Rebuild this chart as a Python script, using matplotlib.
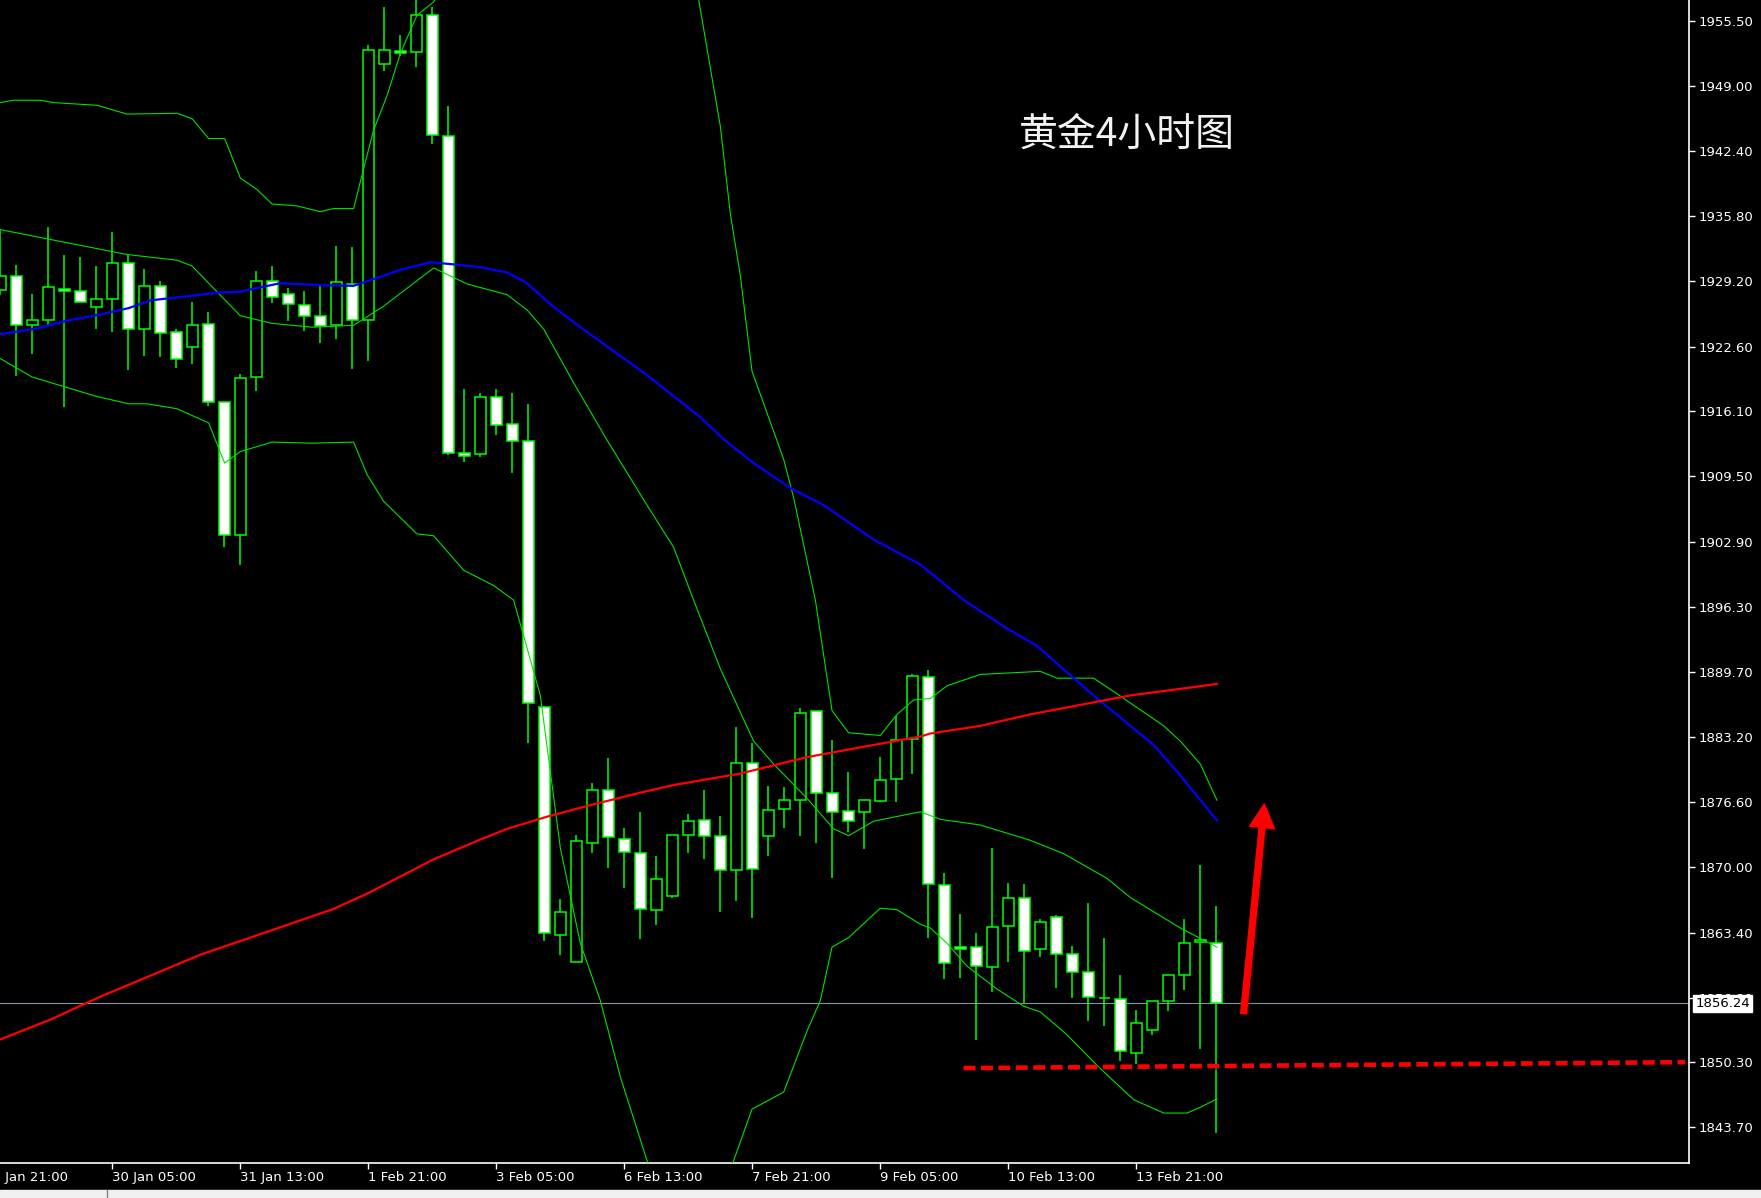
import matplotlib
matplotlib.use("Agg")
import matplotlib.pyplot as plt
import matplotlib.patheffects as pe
from matplotlib.patches import FancyArrowPatch, Rectangle
from matplotlib.transforms import blended_transform_factory

# 4h candles (index 0 = leftmost visible bar)
opens = [1928.33, 1929.80, 1924.85, 1925.35, 1928.48, 1928.29, 1926.67, 1927.48, 1931.04, 1924.39,
         1928.79, 1924.08, 1922.53, 1924.93, 1917.07, 1903.54, 1919.51, 1929.30, 1927.90, 1926.78,
         1925.74, 1924.77, 1928.99, 1925.35, 1951.15, 1952.51, 1952.35, 1956.10, 1943.88, 1911.89,
         1911.74, 1917.50, 1914.75, 1913.05, 1886.22, 1863.12, 1860.39, 1872.49, 1877.85, 1872.88,
         1871.41, 1865.67, 1867.06, 1873.22, 1874.73, 1873.11, 1869.68, 1880.51, 1873.11, 1875.85,
         1876.77, 1885.75, 1877.47, 1875.65, 1875.54, 1876.66, 1878.89, 1882.94, 1889.18, 1868.25,
         1861.89, 1861.89, 1859.96, 1864.09, 1866.86, 1861.70, 1865.01, 1861.20, 1859.39, 1856.80,
         1856.73, 1851.25, 1853.53, 1856.46, 1859.15, 1862.43, 1862.39]
highs = [1934.44, 1930.84, 1927.94, 1934.67, 1931.89, 1931.66, 1930.77, 1934.21, 1931.89, 1930.46,
         1929.22, 1924.39, 1927.09, 1926.13, 1917.07, 1919.90, 1930.26, 1930.77, 1928.56, 1928.21,
         1928.83, 1932.78, 1932.70, 1953.09, 1956.95, 1954.09, 1958.50, 1956.95, 1946.90, 1918.31,
         1917.93, 1918.31, 1917.93, 1916.80, 1886.30, 1866.75, 1873.22, 1878.51, 1881.05, 1873.96,
         1875.58, 1871.14, 1873.30, 1875.42, 1877.81, 1875.23, 1884.17, 1882.55, 1878.20, 1878.12,
         1886.10, 1885.75, 1882.86, 1879.62, 1876.77, 1881.13, 1885.33, 1889.49, 1889.96, 1869.41,
         1865.28, 1863.36, 1871.95, 1868.41, 1868.29, 1864.82, 1865.17, 1862.08, 1866.36, 1862.85,
         1859.15, 1855.57, 1856.46, 1859.15, 1864.78, 1870.22, 1866.09]
lows = [1927.87, 1919.67, 1921.87, 1924.77, 1916.53, 1927.17, 1924.39, 1924.08, 1920.25, 1921.68,
        1921.56, 1920.44, 1920.90, 1916.65, 1902.41, 1900.56, 1918.12, 1926.98, 1925.24, 1924.23,
        1923.03, 1923.38, 1920.40, 1921.21, 1950.49, 1952.04, 1950.88, 1943.14, 1911.62, 1910.96,
        1911.50, 1913.67, 1909.88, 1882.55, 1862.51, 1861.16, 1860.39, 1871.49, 1869.95, 1867.94,
        1862.78, 1864.13, 1866.86, 1871.49, 1870.87, 1865.51, 1866.56, 1864.86, 1871.18, 1874.00,
        1873.11, 1872.49, 1868.95, 1873.61, 1871.88, 1876.58, 1876.58, 1879.47, 1862.89, 1858.73,
        1858.85, 1852.56, 1857.42, 1860.46, 1856.26, 1860.97, 1857.84, 1856.80, 1854.49, 1853.91,
        1850.44, 1850.09, 1853.06, 1855.45, 1857.61, 1851.60, 1843.16]
closes = [1929.80, 1924.85, 1925.35, 1928.60, 1928.29, 1927.17, 1927.40, 1931.12, 1924.39, 1928.79,
          1923.96, 1921.41, 1924.85, 1917.07, 1903.54, 1919.40, 1929.30, 1927.60, 1926.90, 1925.74,
          1924.66, 1929.10, 1925.27, 1952.58, 1952.58, 1952.27, 1956.10, 1944.00, 1911.89, 1911.54,
          1917.50, 1914.68, 1913.05, 1886.60, 1863.36, 1865.44, 1872.61, 1877.77, 1873.03, 1871.53,
          1865.75, 1868.83, 1873.30, 1874.65, 1873.11, 1869.68, 1880.51, 1869.87, 1875.77, 1876.81,
          1885.56, 1877.47, 1875.54, 1874.65, 1876.77, 1878.78, 1882.82, 1889.30, 1868.29, 1860.31,
          1861.70, 1860.00, 1864.01, 1866.86, 1861.54, 1864.44, 1861.20, 1859.39, 1856.84, 1856.80,
          1851.41, 1854.30, 1856.46, 1859.15, 1862.39, 1862.62, 1856.24]

# Bollinger bands, sampled along the drawn curves (x = bar index)
bb_up_x = [0, 0.83, 2.5, 3.33, 6.04, 7.92, 11.04, 11.98, 13.02, 14.02, 15.0, 16.04, 16.98, 18.54,
           20.0, 20.83, 22.08, 22.71, 23.33, 24.17, 25.0, 26.04, 27.08, 28.5, 32, 37, 41, 43.65,
           45.0, 45.63, 46.25, 46.98, 48.96, 49.58, 50.94, 51.98, 53.02, 55.0, 56.04, 57.08, 58.13,
           59.17, 61.25, 65.0, 66.04, 68.33, 69.58, 72.71, 73.75, 75.0, 76.04]
bb_up_y = [1947.28, 1947.52, 1947.52, 1947.28, 1947.01, 1946.12, 1946.20, 1945.66, 1943.65, 1943.65,
           1939.66, 1938.50, 1937.03, 1936.84, 1936.26, 1936.57, 1936.57, 1940.63, 1944.50, 1947.98,
           1952.24, 1956.10, 1957.46, 1961.0, 1967.0, 1970.0, 1965.0, 1957.65, 1944.89, 1935.99,
           1929.80, 1920.13, 1911.23, 1907.37, 1897.0, 1885.83, 1883.59, 1883.32, 1885.44, 1886.91,
           1887.06, 1888.34, 1889.49, 1889.80, 1889.11, 1889.11, 1887.76, 1884.29, 1882.75, 1880.43,
           1876.77]
bb_mid_x = [0, 7.92, 11.04, 11.98, 13.02, 15.0, 16.98, 19.48, 22.08, 23.96, 27.08, 29.17, 31.67,
            32.92, 33.96, 35.83, 37.92, 40.42, 42.08, 43.33, 45.0, 47.08, 48.33, 50.42, 52.08, 53.02,
            54.58, 57.5, 58.75, 61.25, 64.38, 66.46, 69.17, 70.63, 73.75, 76.04]
bb_mid_y = [1934.44, 1931.93, 1931.35, 1930.77, 1929.03, 1925.74, 1924.97, 1924.58, 1924.77, 1926.71,
            1930.57, 1928.95, 1927.87, 1926.32, 1924.39, 1918.97, 1913.17, 1906.59, 1902.34, 1897.0,
            1890.07, 1882.75, 1880.43, 1876.96, 1873.88, 1873.19, 1874.65, 1875.61, 1874.84, 1874.27,
            1872.72, 1871.37, 1868.87, 1866.94, 1863.86, 1861.93]
bb_low_x = [0, 1.98, 5.94, 8.02, 9.17, 11.04, 13.02, 14.02, 15.0, 16.98, 19.48, 22.08, 22.92, 23.96,
            26.04, 27.08, 28.96, 30.83, 32.08, 33.75, 35.0, 36.25, 37.5, 38.75, 40.42, 42, 44, 45.83,
            46.98, 48.96, 50.42, 51.25, 51.98, 53.02, 55.0, 56.04, 57.5, 58.13, 59.17, 60.42, 62.29,
            63.96, 65.0, 66.67, 68.54, 70.83, 72.71, 74.17, 75.0, 76.04]
bb_low_y = [1921.41, 1919.55, 1917.62, 1916.84, 1916.84, 1916.34, 1914.91, 1910.85, 1912.01, 1912.97,
            1912.86, 1912.97, 1909.69, 1906.98, 1903.69, 1903.50, 1900.02, 1898.47, 1897.0, 1887.37,
            1871.95, 1862.32, 1856.53, 1848.82, 1840.34, 1836.0, 1836.0, 1840.34, 1845.55, 1847.28,
            1853.45, 1856.53, 1861.93, 1862.89, 1865.86, 1865.71, 1864.24, 1863.86, 1862.31, 1860.00,
            1857.69, 1855.95, 1855.38, 1853.06, 1849.98, 1846.51, 1845.16, 1845.16, 1845.74, 1846.59]

# moving averages
ma_blue_x = [0, 2.08, 4.17, 6.25, 8.02, 9.38, 11.46, 13.54, 15.0, 17.5, 20.0, 22.08, 22.92, 25.0,
             26.88, 28.13, 30.0, 31.67, 32.92, 34.38, 36.25, 37.92, 40.42, 42.08, 43.75, 45.21,
             47.08, 49.38, 51.46, 54.58, 57.5, 60.21, 62.92, 64.79, 66.67, 68.75, 70.63, 72.08,
             73.75, 76.04]
ma_blue_y = [1923.88, 1924.39, 1925.24, 1925.86, 1926.51, 1927.29, 1927.67, 1928.06, 1928.18, 1929.03,
             1928.83, 1928.76, 1929.22, 1930.38, 1931.15, 1930.96, 1930.65, 1930.11, 1929.03, 1926.90,
             1924.58, 1922.64, 1919.74, 1917.62, 1915.49, 1913.25, 1910.85, 1908.33, 1906.59, 1903.11,
             1900.60, 1897.01, 1894.12, 1892.38, 1889.69, 1886.79, 1884.29, 1882.36, 1879.28, 1874.73]
ma_red_x = [0, 3.13, 6.25, 9.38, 12.5, 15.63, 17.71, 20.83, 22.92, 25.0, 27.08, 30.0, 31.67, 34.17,
            36.67, 40.0, 42.08, 46.25, 50.42, 54.58, 57.5, 58.13, 61.25, 64.38, 67.5, 70.63, 73.75,
            76.04]
ma_red_y = [1852.60, 1854.60, 1856.92, 1859.04, 1861.16, 1862.89, 1864.05, 1865.79, 1867.33, 1869.06,
            1870.80, 1872.80, 1873.88, 1875.11, 1876.19, 1877.54, 1878.31, 1879.47, 1881.13, 1882.36,
            1883.21, 1883.52, 1884.29, 1885.45, 1886.41, 1887.37, 1888.03, 1888.53]

last_price = 1856.24
support_x = [60.2, 105.3]
support_y = [1849.7, 1850.3]
arrow_start = (77.7, 1855.2)
arrow_end = (79.0, 1876.4)

price_ticks = [1955.50, 1949.00, 1942.40, 1935.80, 1929.20, 1922.60, 1916.10, 1909.50, 1902.90,
               1896.30, 1889.70, 1883.20, 1876.60, 1870.00, 1863.40, 1856.80, 1850.30, 1843.70]
time_ticks = [-1, 7, 15, 23, 31, 39, 47, 55, 63, 71]
time_labels = ["29 Jan 21:00", "30 Jan 05:00", "31 Jan 13:00", "1 Feb 21:00", "3 Feb 05:00",
               "6 Feb 13:00", "7 Feb 21:00", "9 Feb 05:00", "10 Feb 13:00", "13 Feb 21:00"]
title = "黄金4小时图"

W, H = 1761, 1198
fig = plt.figure(figsize=(W / 100, H / 100), dpi=100, facecolor="black")
ax_h = 1162.6 / H
ax = fig.add_axes([0, 1 - ax_h, 1689.3 / W, ax_h])
ax.set_facecolor("black")

lime = "#00ff00"
band = "#00e000"

# candles
n = len(opens)
idx = list(range(n))
ax.vlines(idx, lows, highs, color=lime, lw=1.1, zorder=3)
for i in idx:
    o, c = opens[i], closes[i]
    fill = "white" if c < o else "black"
    ax.bar(i, abs(c - o), bottom=min(o, c), width=0.66, color=fill,
           edgecolor=lime, linewidth=1.1, zorder=4)

ax.plot(bb_up_x, bb_up_y, color=band, lw=0.8, zorder=5)
ax.plot(bb_mid_x, bb_mid_y, color=band, lw=0.8, zorder=5)
ax.plot(bb_low_x, bb_low_y, color=band, lw=0.8, zorder=5)
ax.plot(ma_blue_x, ma_blue_y, color="#0000ff", lw=1.6, zorder=5)
ax.plot(ma_red_x, ma_red_y, color="#ff0000", lw=1.6, zorder=5)

ax.axhline(last_price, color="#8293a3", lw=0.8, zorder=2)

shadow = [pe.SimpleLineShadow(offset=(1.5, -1.5), alpha=0.35), pe.Normal()]
ax.plot(support_x, support_y, color="#ff0000", lw=3.3, dashes=(2.6, 1.2),
        zorder=6, path_effects=shadow)

arrow = FancyArrowPatch(arrow_start, arrow_end,
                        arrowstyle="simple,head_length=1.7,head_width=1.8,tail_width=0.42",
                        mutation_scale=10, color="#ff0000", shrinkA=0, shrinkB=0, zorder=7,
                        path_effects=[pe.SimplePatchShadow(offset=(2, -2), alpha=0.35), pe.Normal()])
ax.add_patch(arrow)

ax.text(0.667, 0.884, title, transform=ax.transAxes, ha="center", va="center",
        fontsize=28, color="#f2f2f2", family=["Noto Sans CJK SC", "DejaVu Sans"])

ax.set_xlim(-0.02, 105.56)
ax.set_ylim(1840.15, 1957.65)

# axes frame like the terminal: only right and bottom
for side in ["top", "left"]:
    ax.spines[side].set_visible(False)
for side in ["right", "bottom"]:
    ax.spines[side].set_color("white")
    ax.spines[side].set_linewidth(1.2)

ax.yaxis.tick_right()
ax.set_yticks(price_ticks)
ax.set_yticklabels([f"{p:.2f}" for p in price_ticks])
ax.tick_params(axis="y", direction="out", length=4, width=1, colors="white",
               labelsize=9.5, pad=3)
ax.set_xticks([t for t in time_ticks if t >= 0])
ax.set_xticklabels([])
ax.tick_params(axis="x", direction="out", length=4, width=1, colors="white")

tr = blended_transform_factory(ax.transData, ax.transAxes)
for t, lab in zip(time_ticks, time_labels):
    ax.text(t - 0.05, -0.007, lab, transform=tr, ha="left", va="top",
            color="white", fontsize=9.5, clip_on=False)

ax.text(1.0035, last_price, f"{last_price:.2f}",
        transform=blended_transform_factory(ax.transAxes, ax.transData),
        ha="left", va="center", color="black", fontsize=9.5, zorder=10, clip_on=False,
        bbox=dict(boxstyle="square,pad=0.15", fc="white", ec="white"))

# window strip at the very bottom
fig.add_artist(Rectangle((0, 0), 1, 8 / H, transform=fig.transFigure,
                         color="#f0f0f0", zorder=0))
fig.add_artist(plt.Line2D([107 / W, 107 / W], [0, 8 / H], transform=fig.transFigure,
                          color="#808080", lw=1))

fig.savefig("out.png", dpi=100, facecolor="black")
